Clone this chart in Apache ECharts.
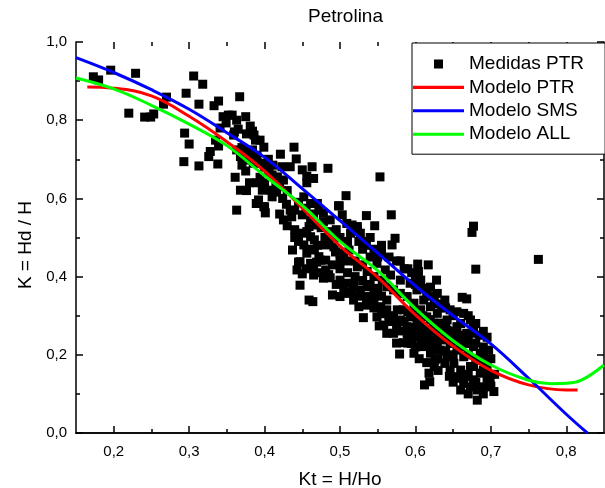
<!DOCTYPE html>
<html>
<head>
<meta charset="utf-8">
<script src="https://cdn.jsdelivr.net/npm/echarts@6/dist/echarts.min.js"></script>
<style>html,body{margin:0;padding:0;background:#fff}#c{width:605px;height:488px}</style>
</head>
<body>
<div id="c"></div>
<script>
const xTicks = [0.2, 0.3, 0.4, 0.5, 0.6, 0.7, 0.8];
const xMinorTicks = [0.25, 0.35, 0.45, 0.55, 0.65, 0.75];
const yTicks = [0, 0.2, 0.4, 0.6, 0.8, 1.0];

const medidasPTR = [
[0.173,0.911],[0.18,0.903],[0.196,0.928],[0.229,0.92],[0.22,0.818],[0.241,0.808],[0.249,0.808],[0.253,0.816],
[0.266,0.841],[0.27,0.859],[0.296,0.869],[0.306,0.913],[0.318,0.892],[0.313,0.841],[0.333,0.837],[0.339,0.849],
[0.367,0.86],[0.345,0.809],[0.352,0.813],[0.363,0.80],[0.375,0.809],[0.381,0.785],[0.341,0.78],[0.365,0.777],
[0.294,0.767],[0.386,0.762],[0.394,0.749],[0.388,0.749],[0.399,0.731],[0.359,0.762],[0.335,0.749],[0.339,0.734],
[0.3,0.739],[0.328,0.72],[0.326,0.707],[0.293,0.694],[0.313,0.683],[0.338,0.688],[0.368,0.707],[0.37,0.685],
[0.381,0.698],[0.439,0.731],[0.421,0.713],[0.442,0.701],[0.463,0.681],[0.484,0.677],[0.45,0.673],[0.456,0.657],
[0.465,0.651],[0.411,0.685],[0.423,0.681],[0.434,0.681],[0.406,0.665],[0.417,0.655],[0.425,0.647],[0.361,0.654],
[0.394,0.654],[0.385,0.69],[0.376,0.62],[0.397,0.621],[0.41,0.604],[0.456,0.64],[0.508,0.607],[0.553,0.655],
[0.568,0.558],[0.498,0.581],[0.535,0.556],[0.546,0.53],[0.363,0.57],[0.389,0.587],[0.399,0.579],[0.401,0.563],
[0.429,0.585],[0.434,0.57],[0.436,0.553],[0.452,0.604],[0.461,0.587],[0.47,0.587],[0.472,0.57],[0.478,0.562],
[0.45,0.558],[0.461,0.545],[0.47,0.532],[0.478,0.54],[0.487,0.545],[0.45,0.511],[0.459,0.528],[0.461,0.502],
[0.509,0.536],[0.516,0.532],[0.523,0.519],[0.514,0.511],[0.573,0.498],[0.487,0.515],
[0.368,0.621],[0.384,0.724],[0.387,0.698],[0.392,0.596],[0.4,0.578],[0.349,0.793],[0.357,0.813],[0.36,0.77],
[0.363,0.724],[0.384,0.772],[0.376,0.765],[0.408,0.621],[0.416,0.616],[0.424,0.6],[0.43,0.62],[0.44,0.52],
[0.499,0.581],[0.503,0.558],[0.677,0.529],[0.675,0.513],[0.763,0.444],[0.569,0.481],[0.523,0.528],[0.527,0.511],
[0.603,0.432],[0.617,0.43],[0.604,0.413],[0.607,0.391],[0.68,0.419],[0.628,0.391],[0.62,0.373],[0.662,0.347],
[0.668,0.343],[0.695,0.245],[0.697,0.212],[0.704,0.106],[0.682,0.084],[0.612,0.123],[0.618,0.153],[0.619,0.131],
[0.579,0.202],[0.595,0.229],[0.598,0.204],[0.584,0.231],[0.626,0.187],[0.464,0.336],[0.531,0.295],[0.552,0.274],
[0.562,0.255],[0.579,0.261],[0.456,0.46],[0.447,0.438],[0.45,0.407],[0.465,0.404],[0.478,0.396],[0.487,0.397],
[0.507,0.383],[0.518,0.383],[0.518,0.34],[0.525,0.323],[0.536,0.327],[0.549,0.297],[0.558,0.276],[0.461,0.434],
[0.472,0.451],[0.481,0.442],[0.456,0.515],[0.492,0.476],[0.5,0.46],[0.505,0.451],[0.512,0.468],[0.523,0.425],
[0.536,0.413],[0.545,0.4],[0.556,0.391],[0.562,0.374],[0.571,0.366],[0.58,0.357],[0.589,0.349],[0.549,0.434],
[0.56,0.417],[0.567,0.404],[0.58,0.391],[0.593,0.383],[0.602,0.366],[0.611,0.34],[0.62,0.323],[0.629,0.306],
[0.633,0.281],[0.642,0.263],[0.651,0.255],[0.66,0.238],[0.668,0.229],[0.677,0.221],[0.686,0.204],[0.69,0.187],
[0.695,0.17],[0.686,0.153],[0.677,0.136],[0.69,0.118],[0.699,0.136],[0.624,0.238],[0.633,0.212],[0.642,0.195],
[0.651,0.178],[0.66,0.161],[0.668,0.144],[0.673,0.17],[0.664,0.195],[0.655,0.212],[0.646,0.229],[0.615,0.255],
[0.611,0.272],[0.602,0.289],[0.593,0.297],[0.584,0.315],[0.576,0.315],[0.571,0.297],[0.562,0.315],[0.554,0.323],
[0.545,0.34],[0.536,0.349],[0.527,0.366],[0.518,0.374],[0.509,0.357],[0.5,0.349],[0.536,0.374],[0.562,0.34],
[0.598,0.332],[0.607,0.315],[0.615,0.297],[0.624,0.281],[0.639,0.238],[0.655,0.272],[0.668,0.255],[0.677,0.272],
[0.664,0.306],[0.673,0.289],[0.646,0.315],[0.639,0.34],[0.642,0.289],[0.629,0.357],[0.589,0.272],[0.58,0.289],
[0.571,0.255],[0.589,0.255],[0.598,0.246],[0.607,0.238],[0.611,0.221],[0.62,0.204],[0.629,0.212],[0.639,0.178],
[0.646,0.161],[0.655,0.144],[0.664,0.127],[0.673,0.118],[0.682,0.11],[0.695,0.118],[0.686,0.187],[0.677,0.17],
[0.629,0.229],[0.437,0.468],[0.443,0.417],[0.447,0.378],[0.459,0.34],[0.445,0.437],[0.452,0.481],[0.466,0.494],
[0.474,0.442],[0.481,0.417],[0.49,0.353],[0.5,0.391],[0.494,0.463],[0.466,0.468],[0.469,0.437],[0.481,0.481],
[0.51,0.49],[0.53,0.47],[0.54,0.45],[0.55,0.45],[0.58,0.44],[0.59,0.42],[0.6,0.40],[0.62,0.35],
[0.635,0.32],[0.65,0.3],[0.66,0.28],[0.63,0.33],[0.54,0.5],[0.555,0.48],[0.53,0.49],
[0.565,0.285],[0.575,0.275],[0.585,0.285],[0.595,0.265],[0.605,0.26],[0.615,0.24],[0.62,0.26],[0.63,0.25],
[0.64,0.25],[0.65,0.235],[0.66,0.22],[0.67,0.2],[0.68,0.19],[0.69,0.16],[0.7,0.15],[0.68,0.13],
[0.67,0.15],[0.66,0.14],[0.65,0.2],[0.64,0.21],[0.63,0.19],[0.62,0.22],[0.61,0.25],[0.6,0.27],
[0.59,0.31],[0.6,0.31],[0.61,0.3],[0.62,0.29],[0.63,0.27],[0.64,0.27],[0.65,0.26],[0.66,0.25],
[0.67,0.24],[0.68,0.23],[0.69,0.22],[0.685,0.25],[0.675,0.255],[0.69,0.2],[0.7,0.19],[0.66,0.11],
[0.67,0.1],[0.69,0.1],[0.7,0.12],[0.705,0.15],[0.695,0.14],[0.65,0.13],[0.645,0.145],[0.63,0.16],
[0.625,0.17],[0.615,0.18],[0.605,0.19],[0.6,0.22],[0.59,0.23],[0.59,0.24],[0.575,0.23],
[0.455,0.42],[0.465,0.42],[0.475,0.41],[0.485,0.405],[0.49,0.43],[0.5,0.42],[0.51,0.41],[0.52,0.4],
[0.53,0.39],[0.54,0.38],[0.55,0.37],[0.545,0.36],[0.555,0.35],[0.52,0.44],[0.53,0.43],[0.51,0.44],
[0.5,0.44],[0.495,0.38],[0.505,0.37],[0.515,0.36],[0.525,0.35],[0.535,0.34],[0.545,0.32],[0.555,0.305],
[0.565,0.3],[0.525,0.49],[0.535,0.48],[0.545,0.47],[0.555,0.46],[0.565,0.45],[0.575,0.44],[0.585,0.42],
[0.595,0.41],[0.6,0.38],[0.61,0.37],[0.615,0.36],[0.625,0.34],[0.64,0.32],[0.655,0.31],[0.67,0.3],
[0.68,0.28],[0.69,0.26],[0.42,0.56],[0.425,0.545],[0.43,0.53],[0.44,0.5],[0.445,0.49],[0.44,0.57],
[0.445,0.59],[0.455,0.575],[0.465,0.56],[0.475,0.525],[0.48,0.5],[0.485,0.49],[0.49,0.5],[0.495,0.52],
[0.5,0.5],[0.47,0.48],[0.46,0.47],[0.37,0.73],[0.375,0.72],[0.38,0.71],[0.39,0.71],[0.395,0.69],
[0.4,0.68],[0.405,0.7],[0.41,0.66],[0.415,0.64],[0.42,0.63],[0.39,0.64],[0.4,0.64],[0.375,0.67],[0.38,0.64]
];

const modeloPTR = [[0.165,0.885],[0.2,0.882],[0.25,0.862],[0.3,0.81],[0.35,0.745],[0.4,0.67],[0.45,0.575],
[0.5,0.478],[0.55,0.398],[0.6,0.302],[0.65,0.222],[0.7,0.16],[0.75,0.123],[0.8,0.11],[0.815,0.11]];

const modeloSMS = [[0.15,0.96],[0.2,0.922],[0.25,0.878],[0.3,0.828],[0.35,0.768],[0.4,0.705],[0.45,0.625],
[0.5,0.543],[0.55,0.46],[0.6,0.376],[0.65,0.30],[0.7,0.228],[0.75,0.14],[0.8,0.048],[0.828,0.0]];

const modeloALL = [[0.15,0.908],[0.2,0.88],[0.25,0.838],[0.3,0.79],[0.35,0.735],[0.4,0.658],[0.45,0.582],
[0.5,0.49],[0.55,0.415],[0.6,0.318],[0.65,0.236],[0.7,0.174],[0.75,0.135],[0.78,0.126],[0.8,0.127],
[0.82,0.135],[0.85,0.174]];

const FONT = "'Liberation Sans', Arial, sans-serif";
const fmt = v => v.toFixed(1).replace('.', ',');
const axisLineStyle = { color: '#000', width: 1.5 };
const lineIcon = 'path://M0,0L100,0L100,6L0,6Z';
const squareIcon = 'path://M0,0L0.01,0L0,0.01Z M21,0.5L30,0.5L30,9.5L21,9.5Z M51,10L50.99,10L51,9.99Z';

const GRID = { left: 76, right: 1, top: 42, bottom: 55 };
const plotW = 605 - GRID.left - GRID.right;
const plotH = 488 - GRID.top - GRID.bottom;

const chart = echarts.init(document.getElementById('c'), null, { renderer: 'canvas' });
const baseX = { type: 'value', min: 0.15, max: 0.85, splitLine: { show: false } };
const baseY = { type: 'value', min: 0, max: 1, interval: 0.2, splitLine: { show: false } };
const noLabel = { show: false };
const majX = { show: true, inside: false, length: 7, customValues: xTicks, lineStyle: axisLineStyle };
const minX = { show: true, inside: false, length: 4, customValues: xMinorTicks, lineStyle: axisLineStyle };
const majY = { show: true, inside: false, length: 7, lineStyle: axisLineStyle };
const minY = { show: true, splitNumber: 2, length: 4, lineStyle: axisLineStyle };

chart.setOption({
  animation: false,
  backgroundColor: '#fff',
  title: { text: 'Petrolina', left: 303, top: 2,
    textStyle: { fontFamily: FONT, fontSize: 19, fontWeight: 'normal', color: '#000' } },
  grid: Object.assign({ containLabel: false, outerBoundsMode: 'none' }, GRID),
  legend: {
    orient: 'vertical', left: 412, top: 43,
    padding: [11, 21, 10, 1], itemGap: 3.4, itemWidth: 51, itemHeight: 10,
    backgroundColor: '#fff', borderColor: '#000', borderWidth: 1,
    textStyle: { fontFamily: FONT, fontSize: 19, color: '#000', lineHeight: 20 },
    data: [{ name: 'Medidas PTR', icon: squareIcon, itemStyle: { opacity: 1 } },
           { name: 'Modelo PTR', icon: lineIcon },
           { name: 'Modelo SMS', icon: lineIcon },
           { name: 'Modelo ALL', icon: lineIcon }]
  },
  xAxis: [
    Object.assign({}, baseX, { position: 'bottom',
      name: 'Kt = H/Ho', nameLocation: 'middle', nameGap: 37,
      nameTextStyle: { fontFamily: FONT, fontSize: 19, color: '#000' },
      axisLine: { lineStyle: axisLineStyle },
      axisTick: { show: false },
      axisLabel: { customValues: xTicks, formatter: fmt, margin: 11, fontFamily: FONT, fontSize: 15, color: '#000' } }),
    Object.assign({}, baseX, { position: 'top', axisLine: { lineStyle: axisLineStyle },
      axisTick: { show: false }, axisLabel: noLabel }),
    // tick-only axes: placed on the opposite edge so their outward ticks point into the plot
    Object.assign({}, baseX, { position: 'top', offset: -plotH, axisLine: { show: false }, axisTick: majX, axisLabel: noLabel }),
    Object.assign({}, baseX, { position: 'top', offset: -plotH, axisLine: { show: false }, axisTick: minX, axisLabel: noLabel }),
    Object.assign({}, baseX, { position: 'bottom', offset: -plotH, axisLine: { show: false }, axisTick: majX, axisLabel: noLabel }),
    Object.assign({}, baseX, { position: 'bottom', offset: -plotH, axisLine: { show: false }, axisTick: minX, axisLabel: noLabel })
  ],
  yAxis: [
    Object.assign({}, baseY, { position: 'left',
      name: 'K = Hd / H', nameLocation: 'middle', nameGap: 40,
      nameTextStyle: { fontFamily: FONT, fontSize: 19, color: '#000', padding: [0, 15, 0, 0] },
      axisLine: { show: true, lineStyle: axisLineStyle },
      axisTick: { show: false },
      axisLabel: { formatter: fmt, margin: 9, fontFamily: FONT, fontSize: 15, color: '#000' } }),
    Object.assign({}, baseY, { position: 'right', axisLine: { show: true, lineStyle: axisLineStyle },
      axisTick: { show: false }, axisLabel: noLabel }),
    Object.assign({}, baseY, { position: 'right', offset: -plotW, axisLine: { show: false },
      axisTick: majY, minorTick: minY, axisLabel: noLabel }),
    Object.assign({}, baseY, { position: 'left', offset: -plotW, axisLine: { show: false },
      axisTick: majY, minorTick: minY, axisLabel: noLabel })
  ],
  series: [
    { name: 'Medidas PTR', type: 'scatter', symbol: 'rect', symbolSize: 9,
      itemStyle: { color: '#000', opacity: 1 }, data: medidasPTR, z: 2 },
    { name: 'Modelo PTR', type: 'line', data: modeloPTR, smooth: 0.4, showSymbol: false, symbol: 'none',
      lineStyle: { color: '#ff0000', width: 3 }, itemStyle: { color: '#ff0000' }, z: 3 },
    { name: 'Modelo SMS', type: 'line', data: modeloSMS, smooth: 0.4, showSymbol: false, symbol: 'none',
      lineStyle: { color: '#0000ff', width: 3 }, itemStyle: { color: '#0000ff' }, z: 3 },
    { name: 'Modelo ALL', type: 'line', data: modeloALL, smooth: 0.4, showSymbol: false, symbol: 'none',
      lineStyle: { color: '#00ff00', width: 3 }, itemStyle: { color: '#00ff00' }, z: 3 }
  ]
});
</script>
</body>
</html>
